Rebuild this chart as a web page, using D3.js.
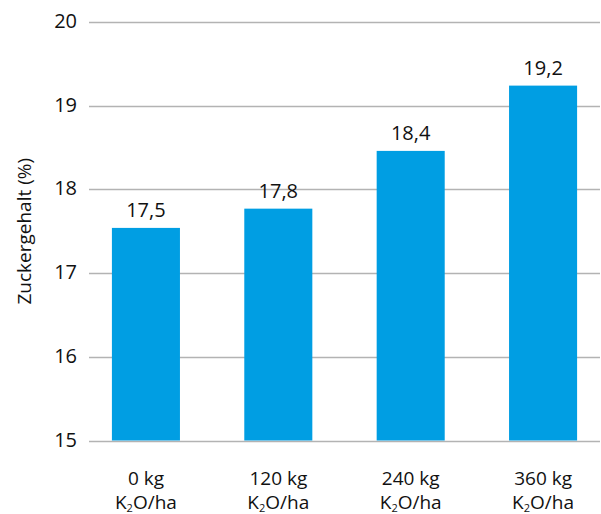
<!DOCTYPE html>
<html>
<head>
<meta charset="utf-8">
<script src="https://cdn.jsdelivr.net/npm/d3@7"></script>
<style>
  html, body { margin: 0; padding: 0; background: #fff; }
  svg { display: block; }
  text { font-family: "Open Sans", "Noto Sans", sans-serif; fill: #111; }
</style>
</head>
<body>
<svg id="chart" width="601" height="514"></svg>
<script>
const categories = ["0 kg", "120 kg", "240 kg", "360 kg"];
const values = [17.54, 17.77, 18.46, 19.24];
const valueLabels = ["17,5", "17,8", "18,4", "19,2"];
const yTicks = [15, 16, 17, 18, 19, 20];
const yTitle = "Zuckergehalt (%)";

const svg = d3.select("#chart");

const x = d3.scaleBand()
  .domain(categories)
  .range([89, 600])
  .paddingInner(0.486)
  .paddingOuter(0.173);

const y = d3.scaleLinear()
  .domain([15, 20])
  .range([440.5, 22]);

// gridlines
svg.append("g")
  .selectAll("line")
  .data(yTicks)
  .join("line")
  .attr("x1", 89)
  .attr("x2", 600)
  .attr("y1", d => Math.round(y(d)) + 0.5)
  .attr("y2", d => Math.round(y(d)) + 0.5)
  .attr("stroke", "#b3b3b3")
  .attr("stroke-width", 1.5);

// y tick labels
svg.append("g")
  .selectAll("text")
  .data(yTicks)
  .join("text")
  .attr("x", 77)
  .attr("y", d => y(d))
  .attr("dy", "0.3em")
  .attr("text-anchor", "end")
  .attr("font-size", 20)
  .text(d => d);

// bars
svg.append("g")
  .selectAll("rect")
  .data(values)
  .join("rect")
  .attr("x", (d, i) => x(categories[i]))
  .attr("width", x.bandwidth())
  .attr("y", d => y(d))
  .attr("height", d => y(15) - y(d))
  .attr("fill", "#009ee3");

// value labels
svg.append("g")
  .selectAll("text")
  .data(values)
  .join("text")
  .attr("x", (d, i) => x(categories[i]) + x.bandwidth() / 2)
  .attr("y", d => y(d) - 11)
  .attr("text-anchor", "middle")
  .attr("font-size", 20)
  .text((d, i) => valueLabels[i]);

// x labels
const xl = svg.append("g")
  .selectAll("g")
  .data(categories)
  .join("g")
  .attr("transform", d => `translate(${x(d) + x.bandwidth() / 2},0)`);

xl.append("text")
  .attr("y", 485)
  .attr("text-anchor", "middle")
  .attr("font-size", 19)
  .text(d => d);

const t2 = xl.append("text")
  .attr("y", 509)
  .attr("text-anchor", "middle")
  .attr("font-size", 19);
t2.append("tspan").text("K");
t2.append("tspan").attr("font-size", 11).attr("dy", 3).text("2");
t2.append("tspan").attr("dy", -3).text("O/ha");

// y title
svg.append("text")
  .attr("transform", `translate(31,${(y(15) + y(20)) / 2}) rotate(-90)`)
  .attr("text-anchor", "middle")
  .attr("font-size", 19)
  .text(yTitle);
</script>
</body>
</html>
